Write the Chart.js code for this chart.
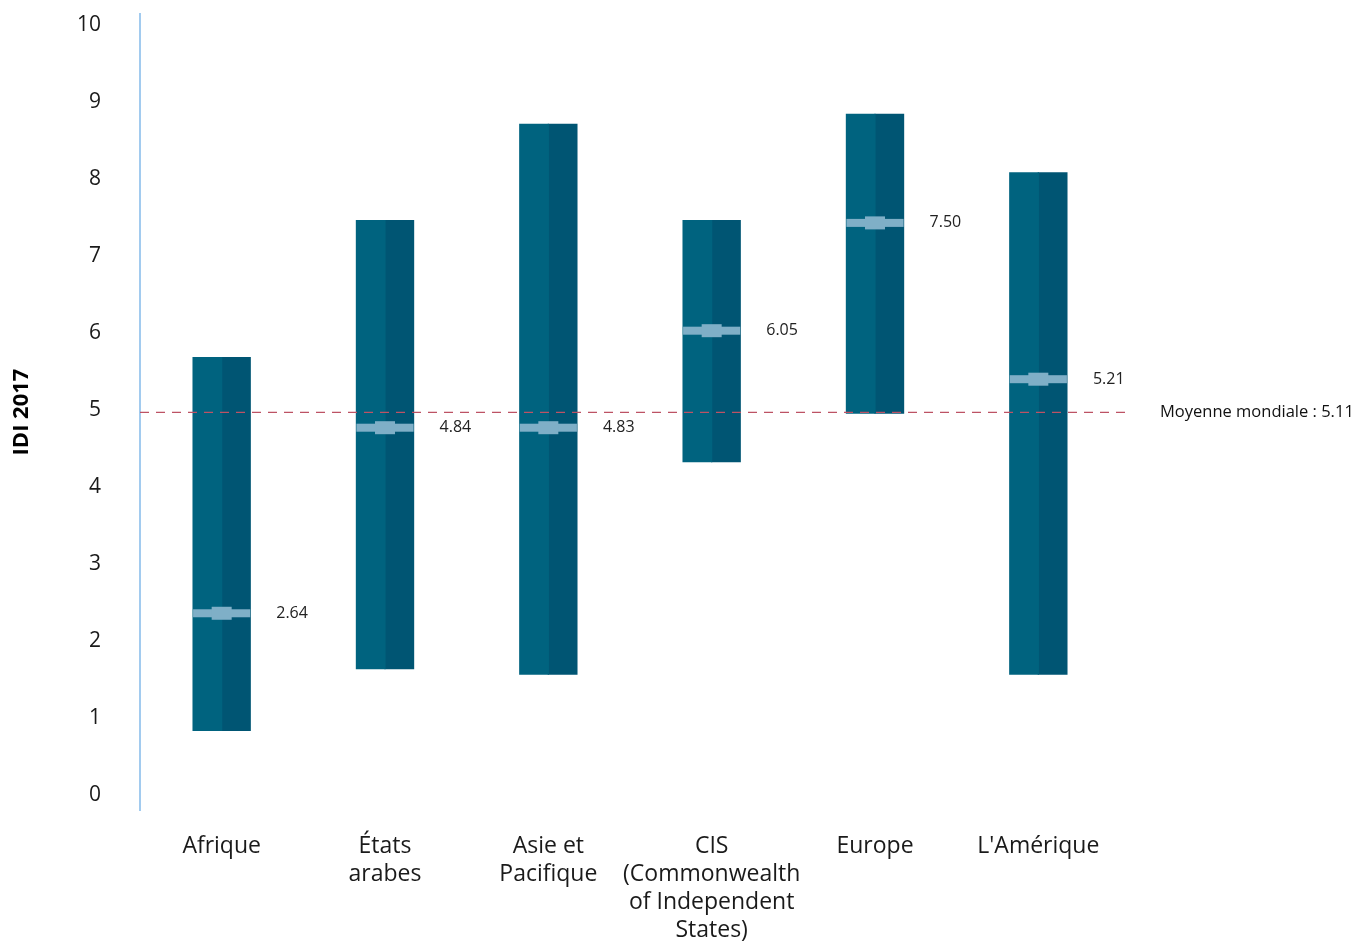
<!DOCTYPE html>
<html>
<head>
<meta charset="utf-8">
<script src="https://cdn.jsdelivr.net/npm/chart.js@4.4.1/dist/chart.umd.min.js"></script>
<style>
  html, body { margin: 0; padding: 0; background: #ffffff; }
  #wrap { width: 1358px; height: 942px; position: relative; }
</style>
</head>
<body>
<div id="wrap"><canvas id="c" width="1358" height="942"></canvas></div>
<script>
// ---- Data ----
const categories = [
  'Afrique',
  ['États', 'arabes'],
  ['Asie et', 'Pacifique'],
  ['CIS', '(Commonwealth', 'of Independent', 'States)'],
  'Europe',
  "L'Amérique"
];
const minValues = [0.84, 1.64, 1.57, 4.33, 4.96, 1.57];
const maxValues = [5.68, 7.46, 8.71, 7.46, 8.84, 8.08];
const meanValues = [2.36, 4.77, 4.77, 6.03, 7.43, 5.40];
const meanLabels = ['2.64', '4.84', '4.83', '6.05', '7.50', '5.21'];
const worldAverage = 4.97;
const worldAverageLabel = 'Moyenne mondiale : 5.11';
const yTicks = [0, 1, 2, 3, 4, 5, 6, 7, 8, 9, 10];
const yTitle = 'IDI 2017';

const ranges = minValues.map((v, i) => [v, maxValues[i]]);

const FONT = "'Open Sans', 'DejaVu Sans', sans-serif";

const overlayPlugin = {
  id: 'overlay',
  afterDatasetsDraw(chart) {
    const ctx = chart.ctx;
    const y = chart.scales.y;
    const area = chart.chartArea;
    const m0 = chart.getDatasetMeta(0);
    const m1 = chart.getDatasetMeta(1);
    ctx.save();
    meanValues.forEach((v, i) => {
      const b0 = m0.data[i], b1 = m1.data[i];
      const left = b0.x - b0.width / 2;
      const right = b1.x + b1.width / 2;
      const cx = (left + right) / 2;
      const py = y.getPixelForValue(v);
      ctx.fillStyle = '#7fafc7';
      ctx.fillRect(left, py - 4, right - left, 8);
      ctx.fillRect(cx - 10, py - 6.5, 20, 13);
      ctx.fillStyle = '#222222';
      ctx.font = '16px ' + FONT;
      ctx.textAlign = 'left';
      ctx.textBaseline = 'middle';
      ctx.fillText(meanLabels[i], right + 26, py);
    });
    const wy = y.getPixelForValue(worldAverage);
    ctx.strokeStyle = '#bd5264';
    ctx.lineWidth = 1.2;
    ctx.setLineDash([9, 7]);
    ctx.beginPath();
    ctx.moveTo(area.left, wy);
    ctx.lineTo(area.right + 10, wy);
    ctx.stroke();
    ctx.setLineDash([]);
    ctx.fillStyle = '#111111';
    ctx.font = '16.5px ' + FONT;
    ctx.textAlign = 'left';
    ctx.textBaseline = 'middle';
    ctx.fillText(worldAverageLabel, area.right + 40, wy);
    ctx.restore();
  }
};

new Chart(document.getElementById('c'), {
  type: 'bar',
  data: {
    labels: categories,
    datasets: [
      { data: ranges, backgroundColor: '#00637f', borderWidth: 0, borderSkipped: false, inflateAmount: 0.6 },
      { data: ranges, backgroundColor: '#005573', borderWidth: 0, borderSkipped: false, inflateAmount: 0.6 }
    ]
  },
  options: {
    responsive: false,
    animation: false,
    events: [],
    layout: { padding: { top: 14, right: 238, bottom: 0, left: 0 } },
    plugins: { legend: { display: false }, tooltip: { enabled: false } },
    datasets: { bar: { categoryPercentage: 0.35, barPercentage: 1.0 } },
    scales: {
      x: {
        grid: { display: false, drawTicks: false },
        border: { display: false },
        ticks: {
          color: '#1a1a1a',
          font: { family: FONT, size: 23, lineHeight: 1.217 },
          padding: 22,
          maxRotation: 0,
          autoSkip: false
        },
        afterFit(scale) {
          scale.height = 132;
          scale.paddingLeft = 0;
          scale.paddingRight = 0;
        }
      },
      y: {
        min: -0.195,
        max: 10.143,
        afterBuildTicks(scale) { scale.ticks = yTicks.map(v => ({ value: v })); },
        grid: { display: false, drawTicks: false },
        border: { display: true, color: '#a2cbef', width: 2 },
        ticks: {
          color: '#1a1a1a',
          font: { family: FONT, size: 21 },
          padding: 39,
          callback: v => String(v)
        },
        title: {
          display: true,
          text: yTitle,
          color: '#000000',
          font: { family: FONT, size: 22, weight: 'bold', lineHeight: 1.2 },
          padding: { top: 9, bottom: 42 }
        },
        afterFit(scale) {
          scale.width = 140;
          scale.paddingTop = 0;
          scale.paddingBottom = 0;
        }
      }
    }
  },
  plugins: [overlayPlugin]
});
</script>
</body>
</html>
